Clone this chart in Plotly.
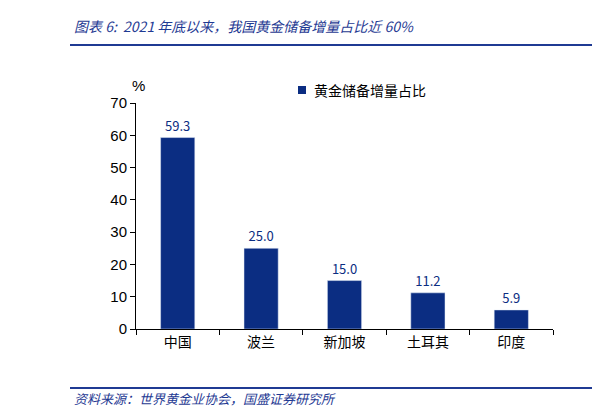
import plotly.graph_objects as go

categories = ["中国", "波兰", "新加坡", "土耳其", "印度"]
values = [59.3, 25.0, 15.0, 11.2, 5.9]
series_name = "黄金储备增量占比"
color = "#0b2d82"
font = "Noto Sans CJK SC"

W, H = 417, 226  # plot area px
fig = go.Figure(go.Bar(
    x=categories, y=values, name=series_name, marker_color=color, width=0.41,
    text=[f"{v:.1f}" for v in values], textposition="outside",
    textfont=dict(color=color, size=13, family=font), cliponaxis=False,
))
fig.update_layout(
    width=601, height=410, margin=dict(l=128, r=56, t=95, b=89, autoexpand=False),
    plot_bgcolor="white", paper_bgcolor="white",
    font=dict(family=font, size=14, color="black"),
    showlegend=False,
    xaxis=dict(showline=True, linecolor="black", ticks="outside", tickson="boundaries",
               ticklen=5, tickcolor="black", tickfont=dict(size=14), automargin=False),
    yaxis=dict(range=[0, 70], dtick=10, showline=True, linecolor="black", ticks="outside",
               ticklen=5, tickcolor="black", showgrid=False, zeroline=False, automargin=False,
               tickfont=dict(size=15, family="Liberation Sans")),
)
# legend drawn manually
fig.add_shape(type="rect", xref="paper", yref="paper",
              x0=(290-128)/W, x1=(298-128)/W, y0=(321-86)/H, y1=(321-78)/H,
              fillcolor=color, line=dict(width=0))
fig.add_annotation(xref="paper", yref="paper", x=(304-128)/W, y=(321-82)/H, text=series_name,
                   showarrow=False, xanchor="left", yanchor="middle", font=dict(size=14))
fig.add_annotation(xref="paper", yref="paper", x=(122-128)/W, y=(321-77)/H, text="%", showarrow=False,
                   xanchor="left", yanchor="middle", font=dict(size=15, family="Liberation Sans"))
fig.add_annotation(xref="paper", yref="paper", x=(64-128)/W, y=(321-18)/H,
                   text="<i>图表 6:  2021 年底以来，我国黄金储备增量占比近 60%</i>",
                   showarrow=False, xanchor="left", yanchor="middle",
                   font=dict(size=14, color="#1f3a93", family=font))
fig.add_annotation(xref="paper", yref="paper", x=(64-128)/W, y=(321-390)/H,
                   text="<i>资料来源：世界黄金业协会，国盛证券研究所</i>",
                   showarrow=False, xanchor="left", yanchor="middle",
                   font=dict(size=13, color="#1f3a93", family=font))
for yy in (37, 380):
    fig.add_shape(type="line", xref="paper", yref="paper", x0=(62-128)/W, x1=(584-128)/W,
                  y0=(321-yy)/H, y1=(321-yy)/H, line=dict(color="#1f3a93", width=2))
fig.write_html("out.html")
